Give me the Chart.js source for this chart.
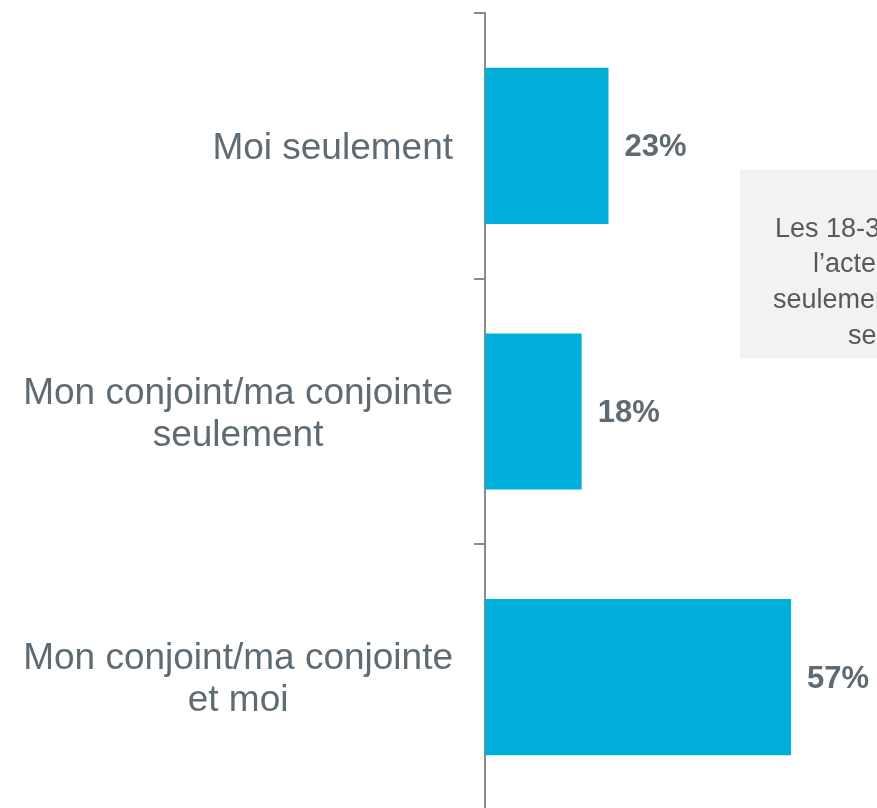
<!DOCTYPE html>
<html>
<head>
<meta charset="utf-8">
<script src="https://cdn.jsdelivr.net/npm/chart.js@4.4.0/dist/chart.umd.min.js"></script>
<style>
  html, body { margin: 0; padding: 0; background: #fff; overflow: hidden; }
  #wrap { position: relative; width: 877px; height: 815px; }
</style>
</head>
<body>
<div id="wrap"><canvas id="chart"></canvas></div>
<script>
// === Data ===
const categories = [
  ['Moi seulement'],
  ['Mon conjoint/ma conjointe', 'seulement'],
  ['Mon conjoint/ma conjointe', 'et moi'],
];
const shares = [23, 18, 57];
// side note (cut by the right edge in the original)
const noteLines = ['Les 18-34 ans', 'l’acte de', 'seulement', 'se'];

const BAR_BLUE = '#00AEDA';
const TEXT_GREY = '#5F6B73';
const AXIS_GREY = '#8A8A8A';
const FONT = '"Liberation Sans", Arial, sans-serif';

// category labels on the left + value labels after the bars
const labelPlugin = {
  id: 'labels',
  afterDraw(chart) {
    const { ctx, scales: { x, y } } = chart;
    ctx.save();
    ctx.fillStyle = TEXT_GREY;
    ctx.textBaseline = 'middle';

    // each label block sits right-aligned, its lines centred inside it
    ctx.font = `37px ${FONT}`;
    ctx.textAlign = 'center';
    const lineH = 42;
    categories.forEach((lines, i) => {
      const cy = y.getPixelForValue(i) + 3;
      const w = Math.max(...lines.map(l => ctx.measureText(l).width));
      const cx = 453 - w / 2;
      lines.forEach((l, j) => {
        ctx.fillText(l, cx, cy + (j - (lines.length - 1) / 2) * lineH);
      });
    });

    ctx.font = `bold 31px ${FONT}`;
    ctx.textAlign = 'left';
    shares.forEach((v, i) => {
      ctx.fillText(v + '%', x.getPixelForValue(v) + 16, y.getPixelForValue(i) + 2);
    });
    ctx.restore();
  }
};

// grey text box on the right
const notePlugin = {
  id: 'note',
  beforeDatasetsDraw(chart) {
    const { ctx } = chart;
    const spots = [[775, 237], [813, 272], [773, 308], [848, 344]];
    ctx.save();
    ctx.fillStyle = '#F2F2F2';
    ctx.fillRect(740, 170, 200, 188);
    ctx.fillStyle = '#595959';
    ctx.font = `27px ${FONT}`;
    ctx.textAlign = 'left';
    ctx.textBaseline = 'alphabetic';
    noteLines.forEach((t, i) => ctx.fillText(t, spots[i][0], spots[i][1]));
    ctx.restore();
  }
};

const ctx = document.getElementById('chart');
new Chart(ctx, {
  type: 'bar',
  data: {
    labels: categories.map(c => c.join(' ')),
    datasets: [{
      data: shares,
      backgroundColor: BAR_BLUE,
      barPercentage: 0.588,
      categoryPercentage: 1,
    }]
  },
  options: {
    indexAxis: 'y',
    responsive: true,
    maintainAspectRatio: false,
    animation: false,
    layout: { padding: { left: 474, top: 13, right: 0, bottom: 5 } },
    plugins: { legend: { display: false }, tooltip: { enabled: false } },
    scales: {
      x: { display: false, min: 0, max: 73 },
      y: {
        ticks: { display: false },
        grid: { drawOnChartArea: false, color: AXIS_GREY, lineWidth: 2, tickLength: 11 },
        border: { color: AXIS_GREY, width: 2 },
      }
    }
  },
  plugins: [notePlugin, labelPlugin]
});
</script>
</body>
</html>
